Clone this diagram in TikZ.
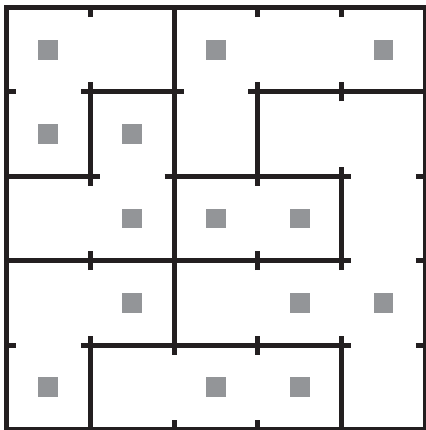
\documentclass[tikz,border=0pt]{standalone}
\usepackage{xcolor}
\usepackage{tikz}
\definecolor{wallink}{RGB}{35,31,32}
\definecolor{roomgray}{RGB}{147,149,152}

\begin{document}
\begin{tikzpicture}[
  x=1.995cm, y=2.01cm,
  wall/.style={line width=3.4pt, draw=wallink},
  post/.style={line width=3.4pt, draw=wallink},
  room/.style={fill=roomgray, inner sep=0pt, minimum size=0.476cm}
]
\useasboundingbox (-0.078,-0.006) rectangle (5.006,5.089);
% posts at every grid point
\begin{scope}
\clip (0,0) rectangle (5,5);
\foreach \i in {0,...,5}
  \foreach \j in {0,...,5}
    \draw[post] (\i-0.113,\j) -- (\i+0.113,\j) (\i,\j-0.113) -- (\i,\j+0.113);
\end{scope}
% walls
\draw[wall] (1,4) -- (2,4) (3,4) -- (5,4);
\draw[wall] (0,3) -- (1,3) (2,3) -- (4,3);
\draw[wall] (0,2) -- (4,2);
\draw[wall] (1,1) -- (4,1);
\draw[wall] (1,4) -- (1,3) (1,1) -- (1,0);
\draw[wall] (2,5) -- (2,1);
\draw[wall] (3,4) -- (3,3);
\draw[wall] (4,3) -- (4,2) (4,1) -- (4,0);
\draw[wall] (0,0) rectangle (5,5);
% marked rooms
\foreach \r/\c in {0/0,0/2,0/4,1/0,1/1,2/1,2/2,2/3,3/1,3/3,3/4,4/0,4/2,4/3}
  \node[room] (m-\r-\c) at (\c+0.5,4.5-\r) {};
\end{tikzpicture}
\end{document}
